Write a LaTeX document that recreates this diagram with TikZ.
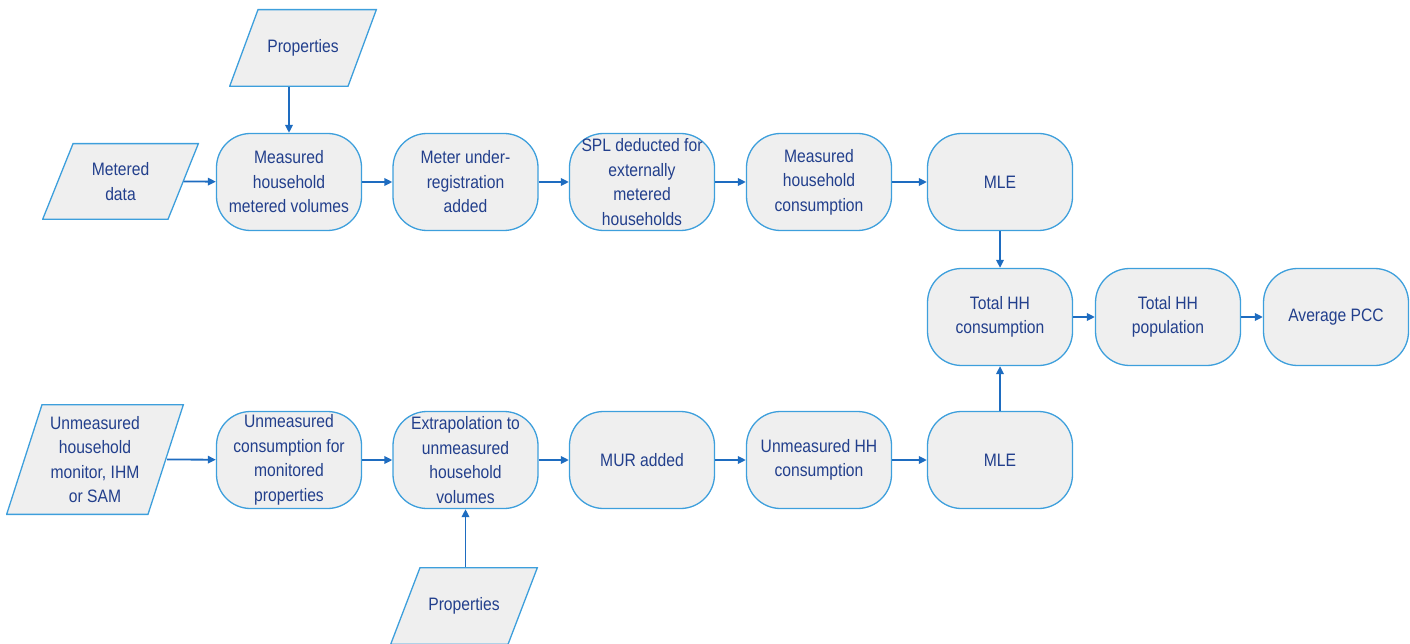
\documentclass[tikz,border=0pt]{standalone}
\usepackage{fontspec}
\setmainfont{Liberation Sans}[FakeStretch=0.87]
\usetikzlibrary{arrows.meta}
\definecolor{boxline}{HTML}{3D9FDC}
\definecolor{boxfill}{HTML}{EFEFEF}
\definecolor{flowline}{HTML}{1E6CC0}
\definecolor{boxtext}{HTML}{223F8C}
\tikzset{
  procbox/.style={draw=boxline,fill=boxfill,line width=1.3pt,rounded corners=34pt,
    minimum width=145pt,minimum height=97pt,align=center,text=boxtext,
    font=\fontsize{18}{24.5}\selectfont},
  databox/.style={inner sep=0pt,align=center,text=boxtext,
    font=\fontsize{18}{24.5}\selectfont,
    path picture={\filldraw[draw=boxline,fill=boxfill,line width=1.3pt]
      ([xshift=#1,yshift=-.65pt]path picture bounding box.north west) --
      ([xshift=-.65pt,yshift=-.65pt]path picture bounding box.north east) --
      ([xshift=-#1,yshift=.65pt]path picture bounding box.south east) --
      ([xshift=.65pt,yshift=.65pt]path picture bounding box.south west) -- cycle;}},
  flow/.style={draw=flowline,line width=1.8pt,-{Triangle[length=8pt,width=7.5pt]}}
}
\begin{document}
\begin{tikzpicture}[x=1pt,y=-1pt]
				\useasboundingbox (0,0) rectangle (1410,644);
				% inputs
				\node[databox=29pt,minimum width=148pt,minimum height=78pt] (prop1) at (303,48) {Properties};
				\node[databox=31pt,minimum width=157pt,minimum height=77pt] (met) at (120.5,181.5) {Metered\\data};
				\node[databox=36pt,minimum width=178pt,minimum height=111pt] (unm) at (95,459.5) {Unmeasured\\household\\monitor, IHM\\or SAM};
				\node[databox=30pt,minimum width=148pt,minimum height=78pt] (prop2) at (464,606) {Properties};
				% measured row
				\node[procbox] (mhv) at (289,182) {Measured\\household\\metered volumes};
				\node[procbox] (mur) at (465.5,182) {Meter under-\\registration\\added};
				\node[procbox] (spl) at (642,182) {SPL deducted for\\externally\\metered\\households};
				\node[procbox] (mhc) at (819,182) {Measured\\household\\consumption};
				\node[procbox] (mle1) at (1000,182) {MLE};
				% totals
				\node[procbox] (thc) at (1000,317) {Total HH\\consumption};
				\node[procbox] (thp) at (1168,317) {Total HH\\population};
				\node[procbox] (pcc) at (1336,317) {Average PCC};
				% unmeasured row
				\node[procbox] (umc) at (289,460) {Unmeasured\\consumption for\\monitored\\properties};
				\node[procbox] (ext) at (465.5,460) {Extrapolation to\\unmeasured\\household\\volumes};
				\node[procbox] (murb) at (642,460) {MUR added};
				\node[procbox] (uhc) at (819,460) {Unmeasured HH\\consumption};
				\node[procbox] (mle2) at (1000,460) {MLE};
				% connectors
				\draw[flow] ([xshift=-15.5pt]met.east) -- (mhv);
				\draw[flow] (prop1.south -| mhv.north) -- (mhv.north);
				\draw[flow] (mhv) -- (mur);
				\draw[flow] (mur) -- (spl);
				\draw[flow] (spl) -- (mhc);
				\draw[flow] (mhc) -- (mle1);
				\draw[flow] (mle1) -- (thc);
				\draw[flow] (mle2) -- (thc);
				\draw[flow] (thc) -- (thp);
				\draw[flow] (thp) -- (pcc);
				\draw[flow] ([xshift=-17pt]unm.east) -- (umc);
				\draw[flow] (umc) -- (ext);
				\draw[flow] (prop2.north -| ext.south) -- (ext.south);
				\draw[flow] (ext) -- (murb);
				\draw[flow] (murb) -- (uhc);
				\draw[flow] (uhc) -- (mle2);
			\end{tikzpicture}
\end{document}
